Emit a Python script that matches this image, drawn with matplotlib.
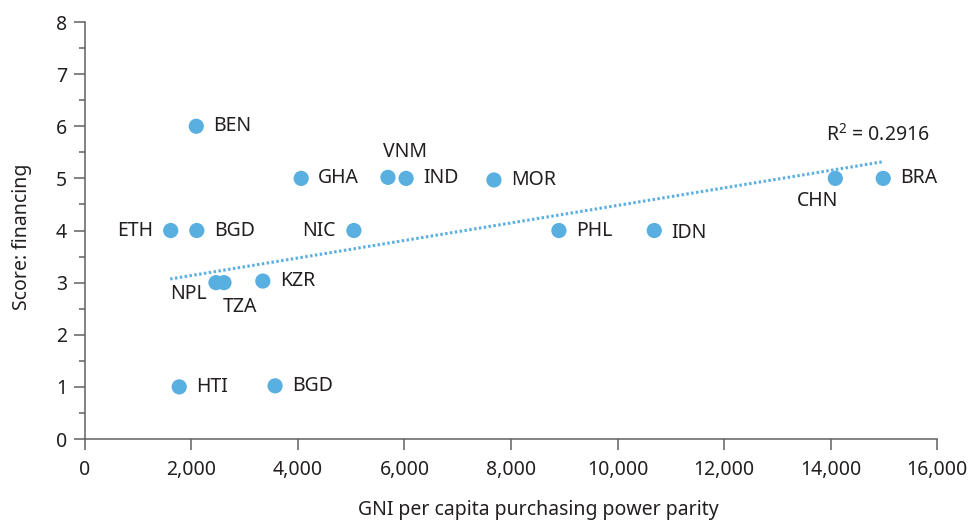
import matplotlib
matplotlib.use('Agg')
import matplotlib.pyplot as plt
from matplotlib.ticker import FuncFormatter, MultipleLocator

# data
countries = ['BEN', 'ETH', 'BGD', 'GHA', 'VNM', 'IND', 'MOR', 'NIC', 'NPL', 'TZA',
             'KZR', 'HTI', 'BGD', 'PHL', 'IDN', 'CHN', 'BRA']
gni = [2090, 1610, 2100, 4060, 5690, 6030, 7680, 5050, 2460, 2610,
       3340, 1770, 3570, 8900, 10690, 14090, 14990]
score = [6, 4, 4, 5, 5.02, 5, 4.97, 4, 3, 3,
         3.03, 1, 1.02, 4, 4, 5, 5]
# label offsets in pixels (dx, dy) and alignment
label_pos = [(17, 0, 'left'), (-18, 0, 'right'), (17, 0, 'left'), (17, 0, 'left'),
             (17, 25, 'center'), (17, 0, 'left'), (17, 0, 'left'), (-18, 0, 'right'),
             (-28, -11, 'center'), (16, -24, 'center'), (17, 0, 'left'),
             (17, 0, 'left'), (17, 0, 'left'), (17, 0, 'left'), (17, -2, 'left'),
             (-18, -23, 'center'), (17, 0, 'left')]

trend_x = [1600, 14990]
trend_y = [3.07, 5.32]
r2_text = 'R$^2$ = 0.2916'

blue = '#5aafe1'
dark = '#231f20'
grey = '#5f6062'

plt.rcParams['font.family'] = ['Noto Sans', 'DejaVu Sans']
plt.rcParams['mathtext.fontset'] = 'custom'
plt.rcParams['mathtext.rm'] = 'Noto Sans'

fig = plt.figure(figsize=(9.7, 5.23), dpi=100)
ax = fig.add_axes([0.0876, 0.1606, 0.8784, 0.7973])

ax.plot(trend_x, trend_y, color=blue, lw=2.2, linestyle=(0, (0.8, 0.8)), zorder=2)
ax.scatter(gni, score, s=120, color=blue, edgecolor='none', zorder=3)

for name, x, y, (dx, dy, ha) in zip(countries, gni, score, label_pos):
    ax.annotate(name, (x, y), xytext=(dx, dy), textcoords='offset pixels',
                ha=ha, va='center', fontsize=14, color=dark)

ax.text(15870, 5.83, r2_text, ha='right', va='center', fontsize=14, color=dark)

ax.set_xlim(0, 16000)
ax.set_ylim(0, 8)
ax.xaxis.set_major_locator(MultipleLocator(2000))
ax.yaxis.set_major_locator(MultipleLocator(1))
ax.yaxis.set_minor_locator(MultipleLocator(0.5))
ax.xaxis.set_major_formatter(FuncFormatter(lambda v, p: f'{int(v):,}'))

for s in ['top', 'right']:
    ax.spines[s].set_visible(False)
for s in ['left', 'bottom']:
    ax.spines[s].set_color(grey)
    ax.spines[s].set_linewidth(1.1)

ax.tick_params(axis='both', which='major', length=8, width=1.1, color=grey,
               labelsize=14, labelcolor=dark, direction='out')
ax.tick_params(axis='y', which='minor', length=4, width=1.1, color=grey)
ax.tick_params(axis='x', pad=7)
ax.tick_params(axis='y', pad=5)

ax.set_xlabel('GNI per capita purchasing power parity', fontsize=14, color=dark)
ax.set_ylabel('Score: financing', fontsize=14, color=dark)
ax.xaxis.set_label_coords(0.532, -0.170)
ax.xaxis.label.set_va('center')
ax.yaxis.set_label_coords(-0.074, 0.484)
ax.yaxis.label.set_va('center')

plt.savefig('out.png', dpi=100)
